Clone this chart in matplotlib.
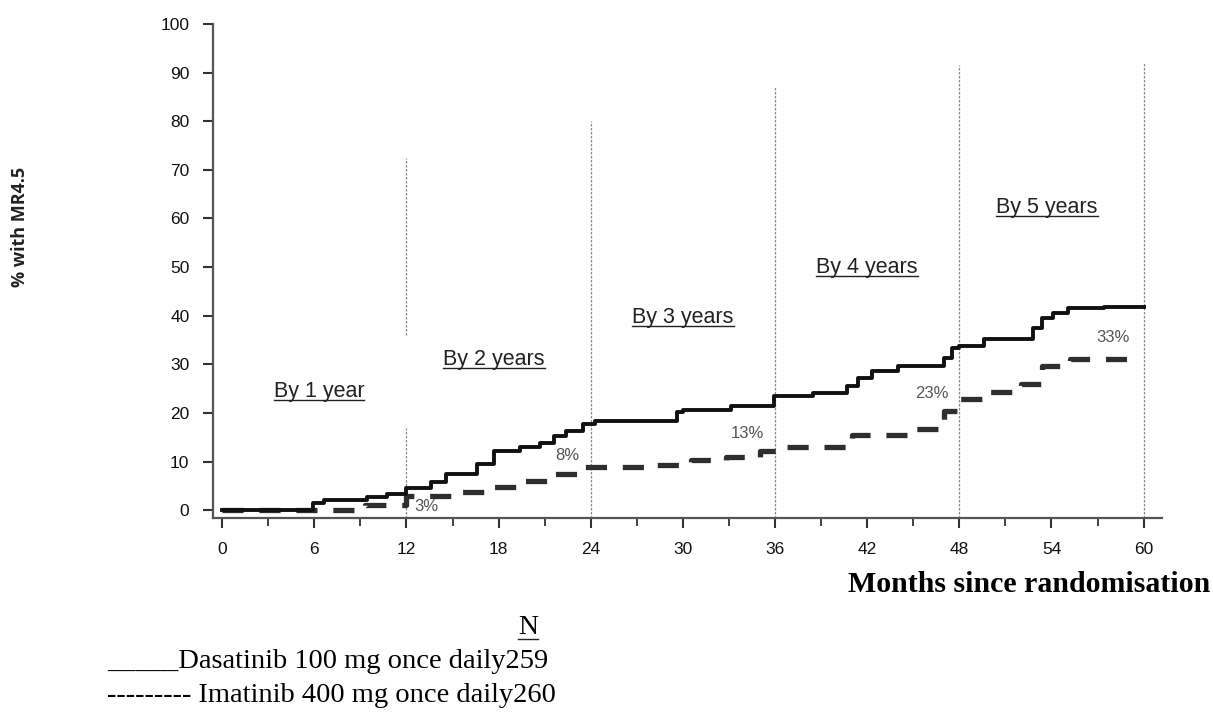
import numpy as np
import matplotlib.pyplot as plt
from matplotlib.ticker import MultipleLocator

# Dasatinib (solid) step curve: month, % with MR4.5
das_t = [0, 5.9, 6.6, 9.4, 10.7, 12.0, 13.6, 14.6, 16.6, 17.7, 19.4, 20.7, 21.6, 22.4,
         23.5, 24.3, 29.6, 30.0, 33.1, 35.9, 38.5, 40.7, 41.4, 42.3, 44.0, 47.0, 47.5,
         48.0, 49.6, 52.8, 53.4, 54.1, 55.1, 57.4, 60.0]
das_v = [0, 1.4, 2.0, 2.7, 3.4, 4.5, 5.8, 7.5, 9.5, 12.1, 12.9, 13.9, 15.3, 16.3,
         17.7, 18.4, 20.1, 20.7, 21.4, 23.5, 24.1, 25.5, 27.2, 28.7, 29.6, 31.3, 33.3,
         33.7, 35.3, 37.4, 39.5, 40.5, 41.6, 41.8, 41.8]

# Imatinib (dashed) step curve
ima_t = [0, 9.3, 12.0, 15.5, 17.5, 19.5, 21.2, 23.2, 28.0, 30.5, 32.8, 35.0, 36.8,
         41.0, 45.0, 47.0, 48.0, 50.0, 52.0, 53.4, 55.2, 59.5]
ima_v = [0, 1.0, 3.0, 3.7, 4.8, 6.1, 7.5, 8.8, 9.2, 10.3, 10.9, 12.2, 12.9,
         15.5, 16.7, 20.4, 22.8, 24.3, 26.0, 29.6, 31.2, 31.2]

# yearly reference lines: month, top of line
ref_months = [12, 24, 36, 48, 60]
ref_tops = [72.5, 80, 87, 91.5, 92]

period_labels = ["By 1 year", "By 2 years", "By 3 years", "By 4 years", "By 5 years"]
period_x = [6.3, 17.7, 30.0, 42.0, 53.7]
period_y = [24.4, 31.0, 39.7, 50.0, 62.3]

pct_labels = ["3%", "8%", "13%", "23%", "33%"]
pct_x = [13.3, 22.5, 34.2, 46.2, 58.0]
pct_y = [0.8, 11.3, 15.8, 24.0, 35.5]

fig = plt.figure(figsize=(12.13, 7.28), dpi=100)
ax = fig.add_axes([0.1756, 0.2885, 0.958 - 0.1756, 0.967 - 0.2885])
ax.set_xlim(-0.6, 61.2)
ax.set_ylim(-1.6, 100)

for m, top in zip(ref_months, ref_tops):
    if m == 12:
        ax.plot([m, m], [-1.6, 17], color='#8a8a8a', lw=0.9, ls=(0, (2, 1.2)))
        ax.plot([m, m], [36, top], color='#8a8a8a', lw=0.9, ls=(0, (2, 1.2)))
    else:
        ax.plot([m, m], [-1.6, top], color='#8a8a8a', lw=0.9, ls=(0, (2, 1.2)))

ax.step(ima_t, ima_v, where='post', color='#2e2e2e', lw=3.8, ls=(0, (4, 3)))
ax.step(das_t, das_v, where='post', color='#111111', lw=2.8)

for sp in ['top', 'right']:
    ax.spines[sp].set_visible(False)
ax.spines['left'].set_color('#555555')
ax.spines['bottom'].set_color('#555555')
ax.spines['left'].set_linewidth(1.6)
ax.spines['bottom'].set_linewidth(1.6)

ax.xaxis.set_major_locator(MultipleLocator(6))
ax.xaxis.set_minor_locator(MultipleLocator(3))
ax.set_yticks(range(0, 101, 10))
ax.tick_params(axis='both', which='major', direction='out', length=7, width=1.5,
               color='#333333', labelsize=12.5, labelcolor='#111111')
ax.tick_params(axis='x', which='minor', direction='out', length=6, width=1.3, color='#333333')
ax.tick_params(axis='y', pad=10)
ax.tick_params(axis='x', pad=10)
for lab in ax.get_xticklabels() + ax.get_yticklabels():
    lab.set_family('Liberation Sans')

texts = []
for lab, x, y in zip(period_labels, period_x, period_y):
    texts.append(ax.text(x, y, lab, ha='center', va='center', fontsize=15.5,
                         family='Liberation Sans', color='#222222'))

for lab, x, y in zip(pct_labels, pct_x, pct_y):
    ax.text(x, y, lab, ha='center', va='center', fontsize=12,
            family='Liberation Sans', color='#555555')

fig.text(20 / 1213, 1 - 227 / 728, "% with MR4.5", rotation=90, ha='center', va='center',
         fontsize=13, fontweight='bold', family='Open Sans', color='#222222')
fig.text(1210 / 1213, 1 - 584 / 728, "Months since randomisation", ha='right', va='center',
         fontsize=21.5, fontweight='bold', family='Liberation Serif')
n_txt = fig.text(528 / 1213, 1 - 628 / 728, "N", ha='center', va='center',
                 fontsize=20, family='Liberation Serif')
fig.text(107 / 1213, 1 - 662 / 728, "_____Dasatinib 100 mg once daily259", ha='left',
         va='center', fontsize=20.5, family='Liberation Serif')
fig.text(107 / 1213, 1 - 696 / 728, "--------- Imatinib 400 mg once daily260", ha='left',
         va='center', fontsize=20.5, family='Liberation Serif')

# underline the period labels and N
fig.canvas.draw()
r = fig.canvas.get_renderer()
inv = fig.transFigure.inverted()
for t in texts + [n_txt]:
    bb = t.get_window_extent(r)
    (x0, y0) = inv.transform((bb.x0, bb.y0 + 2))
    (x1, _) = inv.transform((bb.x1, bb.y0 + 2))
    fig.add_artist(plt.Line2D([x0, x1], [y0, y0], color='#222222', lw=1.0,
                              transform=fig.transFigure))

fig.savefig('out.png', dpi=100)
